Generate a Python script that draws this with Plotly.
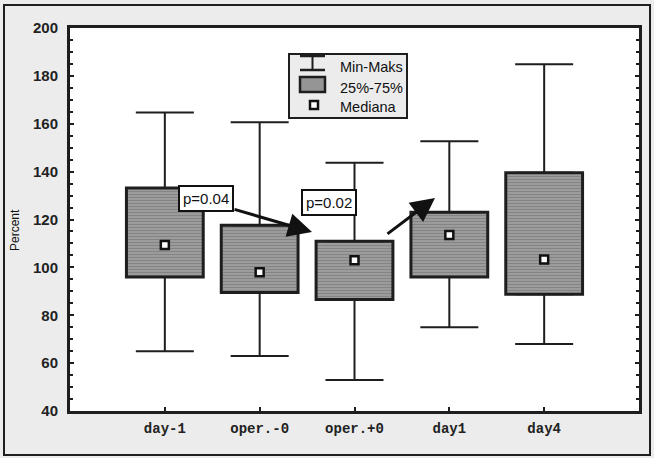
import plotly.graph_objects as go

# ---- data ----
categories = ["day-1", "oper.-0", "oper.+0", "day1", "day4"]
mins = [65, 63, 53, 75, 68]
q1 = [96, 89.5, 86.6, 96, 88.8]
medians = [109.3, 98, 103, 113.5, 103.3]
q3 = [133.2, 117.6, 110.9, 123, 139.5]
maxs = [164.7, 160.6, 143.7, 152.7, 184.9]
y_ticks = [40, 60, 80, 100, 120, 140, 160, 180, 200]
legend_labels = ["Min-Maks", "25%-75%", "Mediana"]
p_labels = ["p=0.04", "p=0.02"]

W, H = 654, 458
ML, MR, MT, MB = 70, 15, 28, 47
PW, PH = W - ML - MR, H - MT - MB


def PX(x):
    return (x - ML) / PW


def PY(y):
    return (H - MB - y) / PH


DARK = "#1e1e1e"
BOX_BG = "#9c9c9c"
BOX_FG = "#6c6c6c"
PAGE_BG = "#ececec"

fig = go.Figure()

# boxes (interquartile range)
fig.add_trace(go.Bar(
    x=categories,
    base=q1,
    y=[b - a for a, b in zip(q1, q3)],
    width=0.81,
    marker=dict(
        color=BOX_BG,
        line=dict(color=DARK, width=3),
        pattern=dict(shape="-", fgcolor=BOX_FG, bgcolor=BOX_BG, size=3, solidity=0.35),
    ),
    showlegend=False,
    hoverinfo="skip",
))

# upper whiskers
fig.add_trace(go.Scatter(
    x=categories, y=q3, mode="markers",
    marker=dict(color="rgba(0,0,0,0)", size=1),
    error_y=dict(type="data", symmetric=False,
                 array=[mx - b for mx, b in zip(maxs, q3)],
                 arrayminus=[0] * len(q3),
                 color=DARK, thickness=2, width=29),
    showlegend=False, hoverinfo="skip",
))
# lower whiskers
fig.add_trace(go.Scatter(
    x=categories, y=q1, mode="markers",
    marker=dict(color="rgba(0,0,0,0)", size=1),
    error_y=dict(type="data", symmetric=False,
                 array=[0] * len(q1),
                 arrayminus=[a - mn for a, mn in zip(q1, mins)],
                 color=DARK, thickness=2, width=29),
    showlegend=False, hoverinfo="skip",
))
# medians
fig.add_trace(go.Scatter(
    x=categories, y=medians, mode="markers",
    marker=dict(symbol="square", size=8, color="white", line=dict(color="#111", width=2.5)),
    showlegend=False, hoverinfo="skip",
))

shapes = []
annotations = []

# outer frame
shapes.append(dict(type="rect", xref="paper", yref="paper",
                   x0=PX(4), x1=PX(650), y0=PY(455), y1=PY(5),
                   line=dict(color=DARK, width=2), fillcolor="rgba(0,0,0,0)", layer="below"))

# manual legend
shapes.append(dict(type="rect", xref="paper", yref="paper",
                   x0=PX(289), x1=PX(407), y0=PY(118), y1=PY(54),
                   line=dict(color=DARK, width=2), fillcolor=PAGE_BG))
for yy in (56, 70):
    shapes.append(dict(type="line", xref="paper", yref="paper",
                       x0=PX(300), x1=PX(325), y0=PY(yy), y1=PY(yy),
                       line=dict(color=DARK, width=2.5)))
shapes.append(dict(type="line", xref="paper", yref="paper",
                   x0=PX(312.5), x1=PX(312.5), y0=PY(56), y1=PY(70),
                   line=dict(color=DARK, width=2)))
shapes.append(dict(type="rect", xref="paper", yref="paper",
                   x0=PX(300), x1=PX(325), y0=PY(92), y1=PY(77),
                   line=dict(color=DARK, width=2.5), fillcolor="#959595"))
shapes.append(dict(type="rect", xref="paper", yref="paper",
                   x0=PX(310), x1=PX(318), y0=PY(109), y1=PY(101),
                   line=dict(color="#111", width=2.5), fillcolor="white"))
for label, yy in zip(legend_labels, (67, 88, 107)):
    annotations.append(dict(xref="paper", yref="paper", x=PX(338), y=PY(yy),
                            text=label, showarrow=False, xanchor="left", yanchor="middle",
                            font=dict(family="Liberation Sans, Arial", size=14.5, color="#111")))

# arrows (data coordinates)
arrows = [((0.719, 124.4), (1.552, 114.8)), ((2.332, 113.5), (2.849, 129.0))]
for (tx, ty), (hx, hy) in arrows:
    annotations.append(dict(x=hx, y=hy, ax=tx, ay=ty, xref="x", yref="y", axref="x", ayref="y",
                            text="", showarrow=True, arrowhead=2, arrowsize=1.6, arrowwidth=3,
                            arrowcolor="#111", standoff=0, startstandoff=0))

# p-value boxes
for label, (xx, yy) in zip(p_labels, [(0.434, 128.6), (1.731, 127.1)]):
    annotations.append(dict(x=xx, y=yy, xref="x", yref="y", text=label, showarrow=False,
                            font=dict(family="Liberation Sans, Arial", size=15, color="#111"),
                            bgcolor="white", bordercolor="#111", borderwidth=2, borderpad=3))

# y axis title
annotations.append(dict(xref="paper", yref="paper", x=PX(15), y=PY(230), text="Percent",
                        textangle=-90, showarrow=False, xanchor="center", yanchor="middle",
                        font=dict(family="Liberation Sans, Arial", size=12, color="#111")))

fig.update_layout(
    width=W, height=H,
    margin=dict(l=ML, r=MR, t=MT, b=MB, pad=0),
    paper_bgcolor=PAGE_BG,
    plot_bgcolor="white",
    shapes=shapes,
    annotations=annotations,
    showlegend=False,
    xaxis=dict(
        type="category", categoryorder="array", categoryarray=categories,
        range=[-1, 5], showgrid=False, zeroline=False,
        showline=True, linecolor=DARK, linewidth=3, mirror=True,
        ticks="inside", ticklen=4, tickwidth=2, tickcolor=DARK,
        ticklabelstandoff=2,
        tickfont=dict(family="Liberation Mono, Courier New", size=14, color="#222", weight="bold"),
    ),
    yaxis=dict(
        range=[40, 200], tickvals=y_ticks, showgrid=False, zeroline=False,
        showline=True, linecolor=DARK, linewidth=3, mirror="allticks",
        ticks="inside", ticklen=4, tickwidth=2, tickcolor=DARK,
        minor=dict(dtick=5, ticks="inside", ticklen=3, tickwidth=2, tickcolor=DARK, showgrid=False),
        ticklabelstandoff=6,
        tickfont=dict(family="Liberation Sans, Arial", size=15, color="#222", weight="bold"),
    ),
)

fig.write_html("out.html")
